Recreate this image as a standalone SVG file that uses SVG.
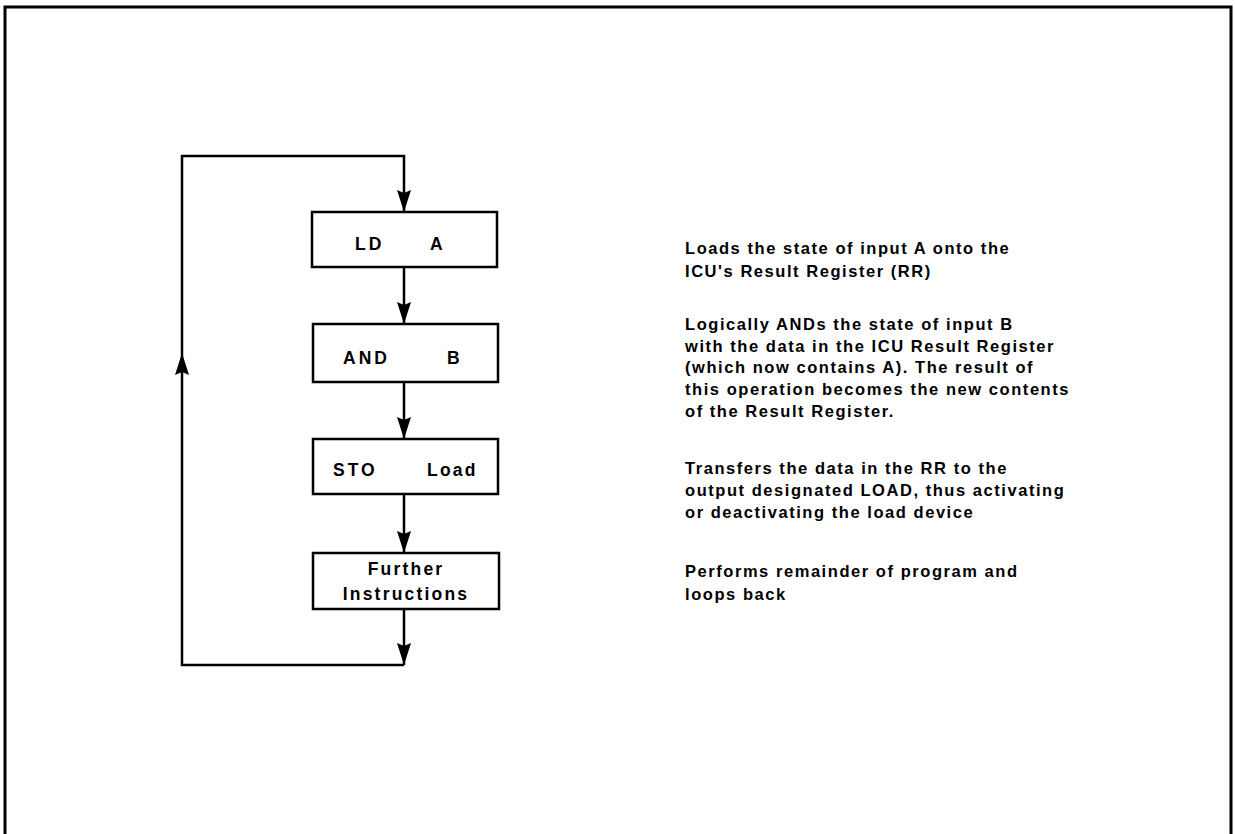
<svg xmlns="http://www.w3.org/2000/svg" width="1235" height="834" viewBox="0 0 1235 834">
<style>
.frame{fill:none;stroke:#000;stroke-width:3}
.box{fill:#fff;stroke:#000;stroke-width:2.5}
.conn{fill:none;stroke:#000;stroke-width:2.5}
.bt{font-family:"Liberation Sans",Arial,sans-serif;font-weight:bold;font-size:17.5px;letter-spacing:2.2px;fill:#000}
.caps{letter-spacing:3px}
.dt{font-family:"Liberation Sans",Arial,sans-serif;font-weight:bold;font-size:16.5px;letter-spacing:1.55px;fill:#000}
</style>
<defs>
<marker id="arr" markerUnits="userSpaceOnUse" markerWidth="24" markerHeight="16" refX="22" refY="7" orient="auto">
<path d="M0,0 L22,7 L0,14 L3,7 z" fill="#000"/>
</marker>
</defs>
<rect width="1235" height="834" fill="#fff"/>
<path class="frame" d="M5,834 V7 H1231 V834"/>
<g id="connectors">
<path class="conn" d="M182,353 V156 H404 V212" marker-end="url(#arr)"/>
<path class="conn" d="M404,267 V324" marker-end="url(#arr)"/>
<path class="conn" d="M404,382 V439" marker-end="url(#arr)"/>
<path class="conn" d="M404,494 V553" marker-end="url(#arr)"/>
<path class="conn" d="M404,609 V665" marker-end="url(#arr)"/>
<path class="conn" d="M404,665 H182 V353" marker-end="url(#arr)"/>
</g>
<g id="node-ld">
<rect class="box" x="312" y="212" width="185" height="55"/>
<text class="bt caps" x="355" y="250">LD</text>
<text class="bt" x="430" y="250">A</text>
</g>
<g id="node-and">
<rect class="box" x="313" y="324" width="185" height="58"/>
<text class="bt caps" x="343" y="364">AND</text>
<text class="bt" x="447" y="364">B</text>
</g>
<g id="node-sto">
<rect class="box" x="313" y="439" width="185" height="55"/>
<text class="bt caps" x="333" y="476">STO</text>
<text class="bt" x="427" y="476">Load</text>
</g>
<g id="node-further">
<rect class="box" x="313" y="553" width="186" height="56"/>
<text class="bt" x="406" y="575" text-anchor="middle">Further</text>
<text class="bt" x="406" y="600" text-anchor="middle">Instructions</text>
</g>
<g id="desc-ld">
<text class="dt" x="685" y="254">Loads the state of input A onto the</text>
<text class="dt" x="685" y="277">ICU's Result Register (RR)</text>
</g>
<g id="desc-and">
<text class="dt" x="685" y="330">Logically ANDs the state of input B</text>
<text class="dt" x="685" y="352">with the data in the ICU Result Register</text>
<text class="dt" x="685" y="373">(which now contains A). The result of</text>
<text class="dt" x="685" y="395">this operation becomes the new contents</text>
<text class="dt" x="685" y="417">of the Result Register.</text>
</g>
<g id="desc-sto">
<text class="dt" x="685" y="474">Transfers the data in the RR to the</text>
<text class="dt" x="685" y="496">output designated LOAD, thus activating</text>
<text class="dt" x="685" y="518">or deactivating the load device</text>
</g>
<g id="desc-further">
<text class="dt" x="685" y="577">Performs remainder of program and</text>
<text class="dt" x="685" y="600">loops back</text>
</g>
</svg>
